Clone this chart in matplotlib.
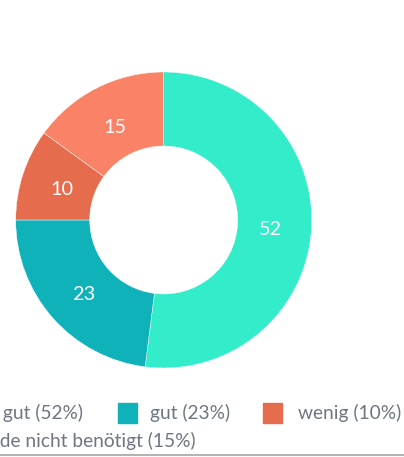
import matplotlib.pyplot as plt
from matplotlib.patches import Rectangle
from matplotlib.transforms import offset_copy
import numpy as np

labels = ['sehr gut', 'gut', 'wenig', 'wurde nicht benötigt']
values = [52, 23, 10, 15]
percents = ['52%', '23%', '10%', '15%']
colors = ['#33ECCA', '#10B2BA', '#E56D4E', '#FA8266']

plt.rcParams['font.family'] = ['Lato', 'DejaVu Sans']

W, H = 404, 457
fig = plt.figure(figsize=(W / 100, H / 100), dpi=100)

# donut placement in pixels
cx, cy, r = 163.7, 220, 148
ax = fig.add_axes([(cx - r) / W, (H - cy - r) / H, 2 * r / W, 2 * r / H])
wedges, _ = ax.pie(values, colors=colors, startangle=90, counterclock=False,
                   radius=1, wedgeprops=dict(width=0.5, edgecolor='white', linewidth=0.3))
ax.set_xlim(-1, 1)
ax.set_ylim(-1, 1)
ax.set_aspect('equal')
ax.axis('off')

# value labels, nudged down a little so the digits sit centred in the ring
lbl_tr = offset_copy(ax.transData, fig=fig, x=0, y=-3.2, units='dots')
for w, v in zip(wedges, values):
    ang = np.deg2rad((w.theta1 + w.theta2) / 2)
    ax.text(0.726 * np.cos(ang), 0.726 * np.sin(ang), str(v), color='white',
            fontsize=14.3, ha='center', va='center', transform=lbl_tr)

# legend, drawn by hand in pixel coordinates (left column runs off the edge)
def px(x, y):
    return x / W, 1 - y / H

txt_color = '#6E7781'
# (text y, [(swatch x, index, text anchor x, align)])
rows = [(413, [(-80, 0, 83.5, 'right'), (118, 1, 150, 'left'), (263, 2, 298, 'left')]),
        (441, [(-95, 3, 195.5, 'right')])]
for ty, items in rows:
    for sx, i, tx, ha in items:
        x0, y0 = px(sx, ty + 10)
        fig.patches.append(Rectangle((x0, y0), 19 / W, 20 / H, transform=fig.transFigure,
                                     color=colors[i], figure=fig))
        fx, fy = px(tx, ty)
        fig.text(fx, fy, f'{labels[i]} ({percents[i]})', color=txt_color,
                 fontsize=13.8, ha=ha, va='center')

fig.add_artist(plt.Line2D([0, 1], [1 - 455 / H] * 2, color='#B4B4B4', linewidth=1.5,
                          transform=fig.transFigure))

fig.savefig('out.png', dpi=100)
